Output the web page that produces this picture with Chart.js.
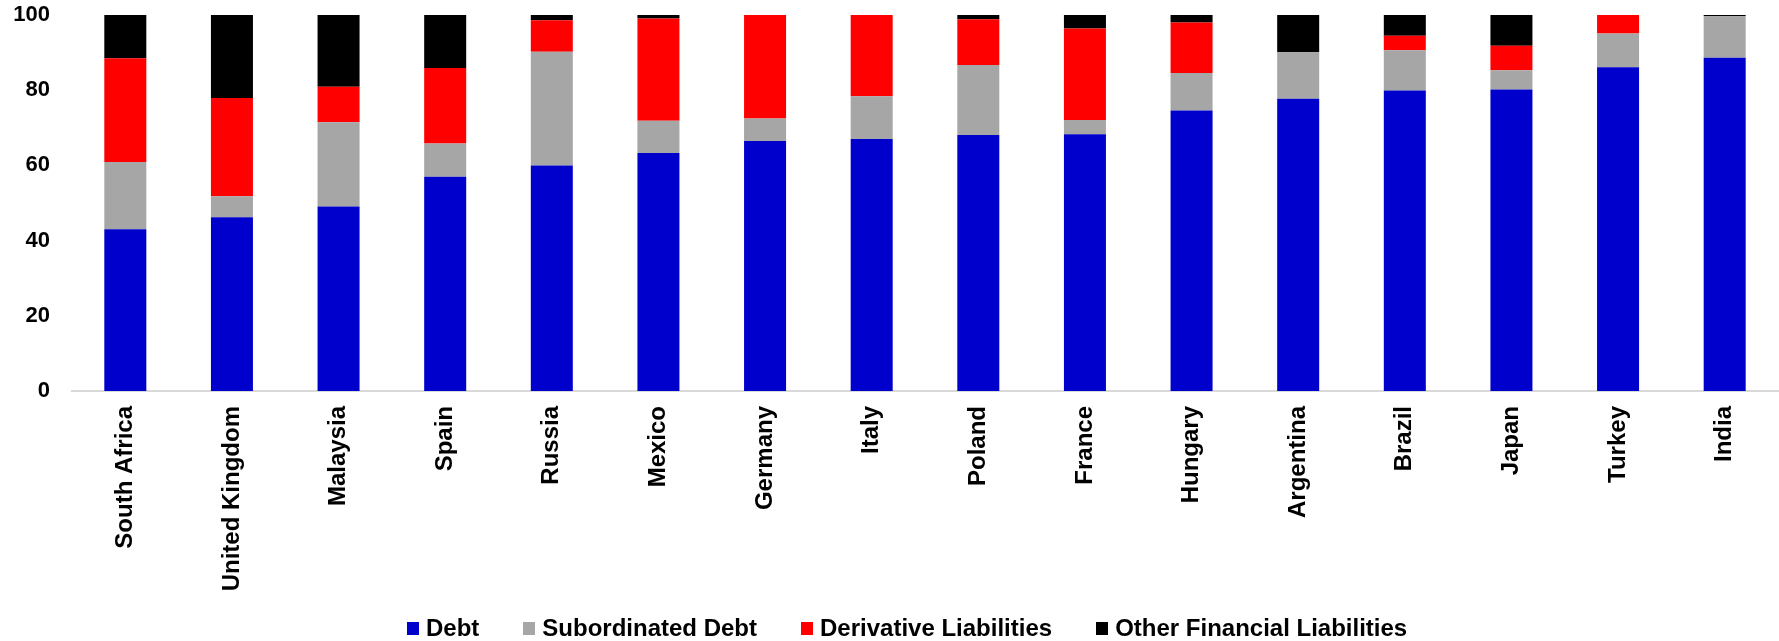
<!DOCTYPE html>
<html>
<head>
<meta charset="utf-8">
<script src="https://cdn.jsdelivr.net/npm/chart.js@4"></script>
<style>
    html, body { margin: 0; padding: 0; background: #fff; }
    #wrap { position: relative; width: 1779px; height: 641px; }
    #liabChart { position: absolute; left: 0; top: 0; }
    #legend {
        position: absolute; left: 407px; top: 614px;
        display: flex; gap: 44px;
        font: bold 24px "Liberation Sans", Arial, sans-serif; color: #000;
    }
    #legend .item { display: flex; align-items: center; }
    #legend .box { width: 12px; height: 13px; margin-right: 7px; }
</style>
</head>
<body>
<div id="wrap">
    <canvas id="liabChart" width="1779" height="641"></canvas>
    <div id="legend"></div>
</div>
<script>
const countries = ['South Africa', 'United Kingdom', 'Malaysia', 'Spain', 'Russia', 'Mexico', 'Germany', 'Italy',
    'Poland', 'France', 'Hungary', 'Argentina', 'Brazil', 'Japan', 'Turkey', 'India'];

// share of total liabilities, %
const debt          = [43.0, 46.2, 49.1, 57.0, 60.0, 63.3, 66.5, 67.0, 68.1, 68.3, 74.6, 77.7, 79.9, 80.2, 86.1, 88.6];
const subordinated  = [17.9,  5.6, 22.4,  8.8, 30.2,  8.6,  6.0, 11.4, 18.6,  3.8, 10.0, 12.4, 10.7,  5.1,  9.0, 11.1];
const derivatives   = [27.6, 26.1,  9.4, 20.1,  8.4, 27.2, 27.6, 21.6, 12.2, 24.3, 13.4,  0.0,  3.9,  6.5,  4.9,  0.0];
const otherFinancial = [11.5, 22.1, 19.1, 14.1,  1.4,  0.9, -0.5,  0.0,  1.1,  3.6,  2.0,  9.9,  5.5,  8.2,  0.0,  0.3];

const yTicks = [0, 20, 40, 60, 80, 100];

const series = [
    { label: 'Debt', data: debt, color: '#0000CC' },
    { label: 'Subordinated Debt', data: subordinated, color: '#A6A6A6' },
    { label: 'Derivative Liabilities', data: derivatives, color: '#FF0000' },
    { label: 'Other Financial Liabilities', data: otherFinancial, color: '#000000' }
];

const font = { family: '"Liberation Sans", Arial, sans-serif', weight: 'bold' };

const ctx = document.getElementById('liabChart').getContext('2d');
const liabChart = new Chart(ctx, {
    type: 'bar',
    data: {
        labels: countries,
        datasets: series.map(s => ({
            label: s.label,
            data: s.data,
            backgroundColor: s.color,
            borderWidth: 0,
            categoryPercentage: 1,
            barPercentage: 0.394
        }))
    },
    options: {
        responsive: false,
        animation: false,
        layout: { padding: { top: 15, right: 1, left: 0, bottom: 0 } },
        plugins: {
            legend: { display: false },
            tooltip: { enabled: false }
        },
        scales: {
            x: {
                stacked: true,
                grid: { display: false, drawTicks: false },
                border: { display: true, color: '#D9D9D9', width: 2 },
                ticks: {
                    autoSkip: false,
                    maxRotation: 90,
                    minRotation: 90,
                    padding: 15,
                    color: '#000',
                    font: { ...font, size: 24 }
                },
                afterFit: scale => {
                    scale.height = 250;
                    scale.paddingLeft = 0;
                    scale.paddingRight = 0;
                }
            },
            y: {
                stacked: true,
                min: 0,
                max: 100,
                grid: { display: false, drawTicks: false },
                border: { display: false },
                afterBuildTicks: scale => { scale.ticks = yTicks.map(v => ({ value: v })); },
                ticks: {
                    padding: 22,
                    color: '#000',
                    font: { ...font, size: 22 }
                },
                afterFit: scale => {
                    scale.width = 72;
                    scale.paddingTop = 0;
                    scale.paddingBottom = 0;
                }
            }
        }
    }
});

// legend as plain HTML under the chart
const legendEl = document.getElementById('legend');
series.forEach(s => {
    const item = document.createElement('div');
    item.className = 'item';
    const box = document.createElement('span');
    box.className = 'box';
    box.style.background = s.color;
    const text = document.createElement('span');
    text.textContent = s.label;
    item.appendChild(box);
    item.appendChild(text);
    legendEl.appendChild(item);
});
</script>
</body>
</html>
